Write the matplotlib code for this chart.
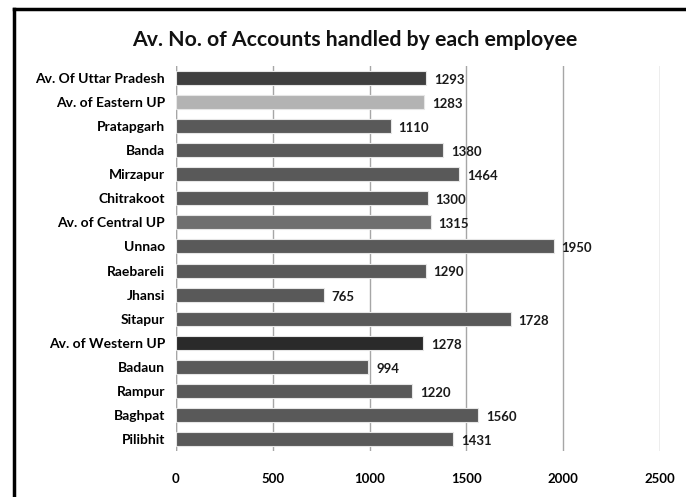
import matplotlib.pyplot as plt
from matplotlib.lines import Line2D

plt.rcParams['font.family'] = ['Lato', 'DejaVu Sans']

districts = ["Av. Of Uttar Pradesh", "Av. of Eastern UP", "Pratapgarh", "Banda",
             "Mirzapur", "Chitrakoot", "Av. of Central UP", "Unnao", "Raebareli",
             "Jhansi", "Sitapur", "Av. of Western UP", "Badaun", "Rampur",
             "Baghpat", "Pilibhit"]
accounts = [1293, 1283, 1110, 1380, 1464, 1300, 1315, 1950, 1290, 765, 1728,
            1278, 994, 1220, 1560, 1431]
bar_colors = ["#3f3f3f", "#b3b3b3", "#595959", "#595959", "#595959", "#595959",
              "#6f6f6f", "#595959", "#595959", "#595959", "#595959", "#2a2a2a",
              "#595959", "#595959", "#595959", "#595959"]
xticks = [0, 500, 1000, 1500, 2000, 2500]

fig = plt.figure(figsize=(6.86, 4.97), dpi=100)
ax = fig.add_axes([176 / 686, 1 - 451 / 497, 484 / 686, 385 / 497])

ypos = range(len(districts))
ax.barh(ypos, accounts, height=0.58, color=bar_colors,
        edgecolor="#e6e6e6", linewidth=0.8, zorder=3)
for y, v in zip(ypos, accounts):
    ax.text(v + 40, y + 0.08, str(v), va="center", ha="left",
            fontsize=9.5, fontweight="bold", color="#1a1a1a", zorder=4)

ax.set_xlim(0, 2500)
ax.set_ylim(len(districts) - 0.5, -0.5)
ax.set_xticks(xticks)
ax.set_xticklabels([str(t) for t in xticks], fontsize=9.5, fontweight="bold")
ax.set_yticks(list(ypos))
ax.set_yticklabels(districts, fontsize=10, fontweight="bold")
ax.tick_params(length=0, pad=8)
ax.tick_params(axis="x", pad=16)
ax.grid(axis="x", color="#a6a6a6", linewidth=1.0, zorder=0)
for s in ax.spines.values():
    s.set_visible(False)
ax.axvline(0, color="#a6a6a6", linewidth=1.0, zorder=1)

fig.text(0.517, 1 - 40 / 497, "Av. No. of Accounts handled by each employee",
         ha="center", va="center", fontsize=15.3, fontweight="bold",
         color="#111111")

# black frame along left and top edges
fig.add_artist(Line2D([14 / 686, 14 / 686], [0, 1 - 9 / 497],
                      color="black", linewidth=2.5, transform=fig.transFigure))
fig.add_artist(Line2D([14 / 686, 1], [1 - 9 / 497, 1 - 9 / 497],
                      color="black", linewidth=2.5, transform=fig.transFigure))

fig.savefig("out.png", dpi=100)
